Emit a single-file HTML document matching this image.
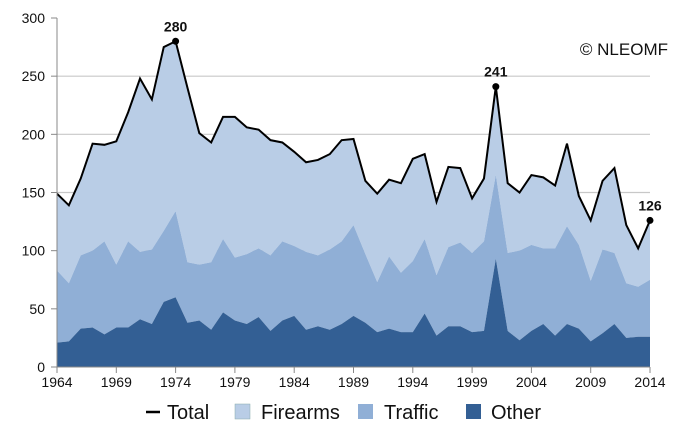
<!DOCTYPE html>
<html><head><meta charset="utf-8"><style>
body{margin:0;background:#fff;}
svg{display:block;font-family:"Liberation Sans",sans-serif;}
</style></head><body>
<svg id="chart" width="700" height="438" viewBox="0 0 700 438">
<g id="grid"></g>
<g id="areas"></g>
<g id="axes"></g>
<text x="668" y="55" text-anchor="end" font-size="17" fill="#111">© NLEOMF</text>
<g font-size="20" fill="#111">
 <g><line x1="146" y1="412" x2="160" y2="412" stroke="#000" stroke-width="2.5"/><text x="167" y="419">Total</text></g>
 <g><rect x="235" y="404" width="15" height="15" fill="#b9cde6" stroke="#8aa" stroke-width="0.5"/><text x="261" y="419">Firearms</text></g>
 <g><rect x="358" y="404" width="15" height="15" fill="#90afd6"/><text x="384" y="419">Traffic</text></g>
 <g><rect x="466" y="404" width="15" height="15" fill="#335f94"/><text x="491" y="419">Other</text></g>
</g>
</svg>
<script>
const years = [];
for (let y = 1964; y <= 2014; y++) years.push(y);
const otherVals = [21,22,33,34,28,34,34,41,37,56,60,38,40,32,47,40,37,43,31,40,44,32,35,32,37,44,38,30,33,30,30,46,27,35,35,30,31,93,31,23,31,37,27,37,33,22,29,37,25,26,26];
const trafficTopVals = [83,72,96,100,108,88,108,99,101,117,134,90,88,90,110,94,97,102,96,108,104,99,96,101,108,122,97,73,95,81,91,110,79,103,107,98,108,165,98,100,105,102,102,121,105,74,101,98,72,69,75];
const totalVals = [149,139,162,192,191,194,219,248,230,275,280,240,201,193,215,215,206,204,195,193,185,176,178,183,195,196,160,149,161,158,179,183,142,172,171,145,162,241,158,150,165,163,156,192,147,126,160,171,122,102,126];
const yTicks = [0,50,100,150,200,250,300];
const xTickYears = [1964,1969,1974,1979,1984,1989,1994,1999,2004,2009,2014];
const labeledYears = [1974,2001,2014];

const NS = "http://www.w3.org/2000/svg";
const X0 = 57, X1 = 650, Y0 = 367, Y1 = 18;
const xs = yr => X0 + (yr - 1964) * (X1 - X0) / 50;
const ys = v => Y0 - v * (Y0 - Y1) / 300;
function mk(tag, attrs, parent){const e=document.createElementNS(NS,tag);for(const k in attrs)e.setAttribute(k,attrs[k]);parent.appendChild(e);return e;}

const grid = document.getElementById('grid');
yTicks.forEach(t=>{ if(t>0 && t<300){ const l=mk('line',{x1:X0,x2:X1,y1:ys(t),y2:ys(t),stroke:'#c8c8c8','stroke-width':1.2},grid);

}});

const areas = document.getElementById('areas');
function area(top, bottom, fill, name){
  let d = 'M' + years.map((y,i)=>xs(y)+','+ys(top[i])).join(' L');
  for(let i=years.length-1;i>=0;i--) d += ' L'+xs(years[i])+','+ys(bottom?bottom[i]:0);
  const p = mk('path',{d:d+'Z',fill:fill},areas);
  
  
}
area(totalVals, trafficTopVals, '#b9cde6', 'firearms-area');
area(trafficTopVals, otherVals, '#90afd6', 'traffic-area');
area(otherVals, null, '#335f94', 'other-area');
const line = mk('polyline',{points:years.map((y,i)=>xs(y)+','+ys(totalVals[i])).join(' '),fill:'none',stroke:'#000','stroke-width':2,'stroke-linejoin':'miter'},areas);


labeledYears.forEach(yr=>{
  const i = years.indexOf(yr);
  const c = mk('circle',{cx:xs(yr),cy:ys(totalVals[i]),r:3.5,fill:'#000'},areas);
  
  
  const t = mk('text',{x:xs(yr),y:ys(totalVals[i])-10,'text-anchor':'middle','font-size':14,'font-weight':'bold',fill:'#111'},areas);
  t.textContent = totalVals[i];
  
  
});

const axes = document.getElementById('axes');
const ya = mk('line',{x1:X0,x2:X0,y1:Y1,y2:Y0,stroke:'#888','stroke-width':1},axes);


const xa = mk('line',{x1:X0,x2:X1,y1:Y0,y2:Y0,stroke:'#888','stroke-width':1},axes);


yTicks.forEach(t=>{
  mk('line',{x1:X0-6,x2:X0,y1:ys(t),y2:ys(t),stroke:'#888'},axes);
  const tx = mk('text',{x:X0-12,y:ys(t)+5,'text-anchor':'end','font-size':14,fill:'#111'},axes);
  tx.textContent = t;
  
  
});
xTickYears.forEach(yr=>{
  mk('line',{x1:xs(yr),x2:xs(yr),y1:Y0,y2:Y0+6,stroke:'#888'},axes);
  const tx = mk('text',{x:xs(yr),y:Y0+20,'text-anchor':'middle','font-size':14,fill:'#111'},axes);
  tx.textContent = yr;
  
  
});
</script>
</body></html>
